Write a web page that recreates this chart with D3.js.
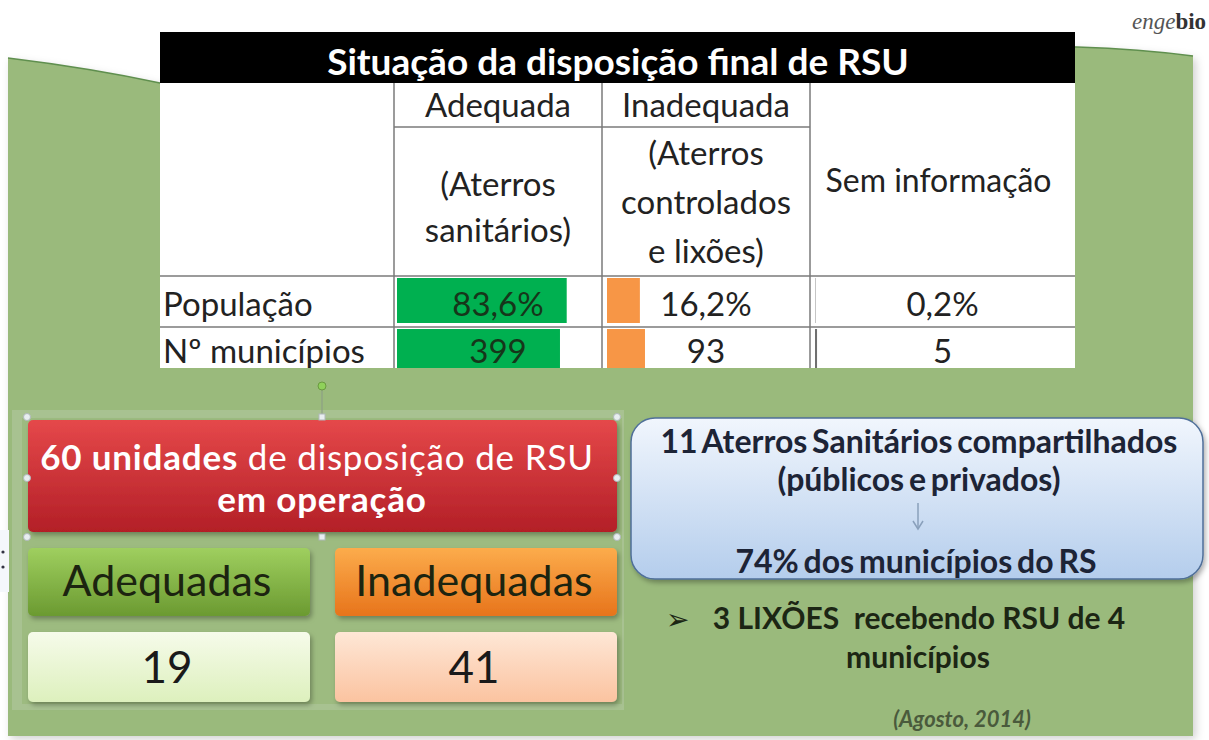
<!DOCTYPE html>
<html>
  <head>
    <meta charset="UTF-8" />
    <script src="https://cdnjs.cloudflare.com/ajax/libs/d3/7.8.5/d3.min.js"></script>
    <style>
      body { margin: 0; background: #fff; }
      svg { display: block; font-family: Lato, "Open Sans", sans-serif; }
    </style>
  </head>
  <body>
    <svg width="1209" height="740"></svg>
    <script>
      // ---- data ----
      const tableTitle = "Situação da disposição final de RSU";
      const columns = ["Adequada", "Inadequada", "Sem informação"];
      const columnNotes = [["(Aterros", "sanitários)"], ["(Aterros", "controlados", "e lixões)"], []];
      const rowLabels = ["População", "Nº municípios"];
      const population = [83.6, 16.2, 0.2];
      const municipalities = [399, 93, 5];

      const unitsTotal = 60;
      const unitLabels = ["Adequadas", "Inadequadas"];
      const unitCounts = [19, 41];

      const sharedLandfills = 11;
      const sharedShare = 74;
      const dumps = 3;
      const dumpMunicipalities = 4;
      const sourceNote = "(Agosto, 2014)";

      // ---- layout ----
      const svg = d3.select("svg");
      const colEdges = [160, 394, 602, 810, 1075];
      const rowEdges = [32, 83, 127, 276, 327, 368];
      const barColors = ["#00b050", "#f79646", "#6f6f6f"];
      const comma = s => s.replace(".", ",");
      const cellFont = 33;

      const defs = svg.append("defs");
      function grad(id, top, bottom) {
        let g = defs.append("linearGradient").attr("id", id)
          .attr("x1", 0).attr("y1", 0).attr("x2", 0).attr("y2", 1);
        g.append("stop").attr("offset", "0%").attr("stop-color", top);
        g.append("stop").attr("offset", "100%").attr("stop-color", bottom);
      }
      grad("gRed", "#e5484a", "#b31f27");
      grad("gGreen", "#9fcf5f", "#6b9a31");
      grad("gOrange", "#fcac4c", "#e7741b");
      grad("gPaleGreen", "#f6fbea", "#ddf0bd");
      grad("gPeach", "#fee7d6", "#fbc3a0");
      grad("gBlue", "#f1f6fd", "#b4cdec");

      let shadow = defs.append("filter").attr("id", "shadow")
        .attr("x", "-5%").attr("y", "-5%").attr("width", "115%").attr("height", "120%");
      shadow.append("feDropShadow").attr("dx", 2).attr("dy", 3)
        .attr("stdDeviation", 2.5).attr("flood-color", "#000").attr("flood-opacity", 0.3);

      let soft = defs.append("filter").attr("id", "soft")
        .attr("x", "-5%").attr("y", "-5%").attr("width", "110%").attr("height", "110%");
      soft.append("feDropShadow").attr("dx", 3).attr("dy", 3)
        .attr("stdDeviation", 4).attr("flood-color", "#000").attr("flood-opacity", 0.18);

      // green background with wavy top
      const topEdge = "M8,58 Q90,68 160,83 C400,130 800,40 1077,47 Q1140,49 1193,56";
      svg.append("path").attr("d", topEdge + " V736 H8 Z").attr("fill", "#9aba7b").attr("filter", "url(#soft)");
      svg.append("path").attr("d", topEdge)
        .attr("fill", "none").attr("stroke", "#5f8f4e").attr("stroke-width", 1.5);

      // logo
      let logo = svg.append("text").attr("x", 1132).attr("y", 29)
        .attr("font-family", "'Liberation Serif', 'DejaVu Serif', serif").attr("font-size", 23);
      logo.append("tspan").attr("font-style", "italic").attr("fill", "#555").text("enge");
      logo.append("tspan").attr("font-weight", "bold").attr("fill", "#333").text("bio");

      // ---- table ----
      const table = svg.append("g");
      defs.append("clipPath").attr("id", "tableClip").append("rect")
        .attr("x", 150).attr("y", 20).attr("width", 940).attr("height", rowEdges[5] - 20);
      table.attr("clip-path", "url(#tableClip)");

      table.append("rect").attr("x", colEdges[0]).attr("y", rowEdges[1])
        .attr("width", colEdges[4] - colEdges[0]).attr("height", 300).attr("fill", "#fff");
      table.append("rect").attr("x", colEdges[0]).attr("y", rowEdges[0])
        .attr("width", colEdges[4] - colEdges[0]).attr("height", rowEdges[1] - rowEdges[0]).attr("fill", "#000");
      table.append("text").attr("x", 618).attr("y", 75)
        .attr("text-anchor", "middle").attr("fill", "#fff").attr("font-weight", "bold")
        .attr("font-size", 37).text(tableTitle);

      // data bars, one scale per row
      const rows = [
        { label: rowLabels[0], values: population, fmt: v => comma(d3.format(".1f")(v)) + "%", base: 316 },
        { label: rowLabels[1], values: municipalities, fmt: v => String(v), base: 363 }
      ];
      rows.forEach((r, ri) => {
        const y0 = rowEdges[3 + ri] + 2, y1 = rowEdges[4 + ri] - 4;
        const x = d3.scaleLinear().domain([0, d3.sum(r.values)]).range([0, 203]);
        table.selectAll(null).data(r.values).enter().append("rect")
          .attr("x", (d, i) => colEdges[i + 1] + (i === 0 ? 3 : 5))
          .attr("y", y0)
          .attr("width", d => x(d))
          .attr("height", y1 - y0 + (ri === 1 ? 6 : 0))
          .attr("fill", (d, i) => barColors[i]);
        table.append("text").attr("x", colEdges[0] + 3).attr("y", r.base)
          .attr("font-size", cellFont).attr("fill", "#222").text(r.label);
        table.selectAll(null).data(r.values).enter().append("text")
          .attr("x", (d, i) => (colEdges[i + 1] + colEdges[i + 2]) / 2)
          .attr("y", r.base)
          .attr("text-anchor", "middle").attr("font-size", cellFont)
          .attr("fill", (d, i) => i === 0 ? "#16361a" : "#222")
          .text(d => r.fmt(d));
      });

      // grid lines
      const grid = table.append("g").attr("stroke", "#7a7a7a").attr("stroke-width", 1.5);
      grid.append("line").attr("x1", colEdges[1]).attr("x2", colEdges[3]).attr("y1", rowEdges[2]).attr("y2", rowEdges[2]);
      [rowEdges[3], rowEdges[4]].forEach(y => grid.append("line").attr("x1", colEdges[0]).attr("x2", colEdges[4]).attr("y1", y).attr("y2", y));
      colEdges.slice(1, 4).forEach(x => grid.append("line").attr("x1", x).attr("x2", x).attr("y1", rowEdges[1]).attr("y2", 400));

      // column heads
      const noteBase = [[196, 242], [165, 214, 263]];
      columns.forEach((c, i) => {
        const cx = (colEdges[i + 1] + colEdges[i + 2]) / 2;
        if (i < 2) {
          table.append("text").attr("x", cx).attr("y", 117).attr("text-anchor", "middle")
            .attr("font-size", cellFont).attr("fill", "#222").text(c);
          columnNotes[i].forEach((n, k) => {
            table.append("text").attr("x", cx).attr("y", noteBase[i][k])
              .attr("text-anchor", "middle").attr("font-size", cellFont).attr("fill", "#222").text(n);
          });
        } else {
          table.append("text").attr("x", cx - 4).attr("y", 192).attr("text-anchor", "middle")
            .attr("font-size", 32).attr("fill", "#222").text(c);
        }
      });

      // ---- lower left group ----
      const grp = svg.append("g");
      grp.append("rect").attr("x", 12).attr("y", 410).attr("width", 612).attr("height", 300)
        .attr("fill", "#b4c9a3").attr("opacity", 0.55);
      grp.append("rect").attr("x", 22).attr("y", 418).attr("width", 600).attr("height", 286)
        .attr("fill", "#9dbb80");

      grp.append("rect").attr("x", 28).attr("y", 420).attr("width", 589).attr("height", 112)
        .attr("rx", 5).attr("fill", "url(#gRed)").attr("filter", "url(#shadow)");
      let t1 = grp.append("text").attr("x", 317).attr("y", 470).attr("text-anchor", "middle")
        .attr("fill", "#fff").attr("font-size", 35).attr("letter-spacing", 0.8);
      t1.append("tspan").attr("font-weight", "bold").text(unitsTotal + " unidades");
      t1.append("tspan").text(" de disposição de RSU");
      grp.append("text").attr("x", 322).attr("y", 512).attr("text-anchor", "middle")
        .attr("fill", "#fff").attr("font-size", 35).attr("letter-spacing", 0.8)
        .attr("font-weight", "bold").text("em operação");

      const boxX = [28, 335], boxW = 282;
      const boxFill = ["url(#gGreen)", "url(#gOrange)"];
      const valFill = ["url(#gPaleGreen)", "url(#gPeach)"];
      unitLabels.forEach((l, i) => {
        grp.append("rect").attr("x", boxX[i]).attr("y", 548).attr("width", boxW).attr("height", 68)
          .attr("rx", 5).attr("fill", boxFill[i]).attr("filter", "url(#shadow)");
        grp.append("text").attr("x", boxX[i] + boxW / 2 - 2).attr("y", 596).attr("text-anchor", "middle")
          .attr("font-size", 43).attr("fill", "#1c2410").text(l);
        grp.append("rect").attr("x", boxX[i]).attr("y", 632).attr("width", boxW).attr("height", 70)
          .attr("rx", 5).attr("fill", valFill[i]).attr("filter", "url(#shadow)");
        grp.append("text").attr("x", boxX[i] + boxW / 2 - 2).attr("y", 683).attr("text-anchor", "middle")
          .attr("font-size", 44).attr("fill", "#1a1a1a").text(unitCounts[i]);
      });

      // selection handles on the red box
      grp.append("line").attr("x1", 322).attr("x2", 322).attr("y1", 388).attr("y2", 417)
        .attr("stroke", "#8a9a86").attr("stroke-width", 1);
      grp.append("circle").attr("cx", 322).attr("cy", 386).attr("r", 4)
        .attr("fill", "#8fd15a").attr("stroke", "#6a9a40");
      [[27, 417], [617, 417], [27, 478], [617, 478], [27, 537], [617, 537]].forEach(p =>
        grp.append("circle").attr("cx", p[0]).attr("cy", p[1]).attr("r", 3.5)
          .attr("fill", "#e8eef0").attr("stroke", "#b0b8bc"));
      [[322, 417], [322, 537]].forEach(p =>
        grp.append("rect").attr("x", p[0] - 3).attr("y", p[1] - 3).attr("width", 6).attr("height", 6)
          .attr("fill", "#e8eef0").attr("stroke", "#b0b8bc"));
      svg.append("rect").attr("x", 0).attr("y", 530).attr("width", 9).attr("height", 62).attr("fill", "#f4f7fb");
      [552, 567].forEach(y => svg.append("circle").attr("cx", 3).attr("cy", y).attr("r", 1.6).attr("fill", "#334"));

      // ---- right side ----
      svg.append("rect").attr("x", 631).attr("y", 418).attr("width", 572).attr("height", 161)
        .attr("rx", 24).attr("fill", "url(#gBlue)").attr("stroke", "#4f6f99").attr("stroke-width", 1.5)
        .attr("filter", "url(#shadow)");
      const blue = svg.append("g").attr("text-anchor", "middle").attr("font-weight", "bold")
        .attr("font-size", 32).attr("fill", "#1d2436").attr("word-spacing", -3);
      blue.append("text").attr("x", 919).attr("y", 453).text(sharedLandfills + " Aterros Sanitários compartilhados");
      blue.append("text").attr("x", 919).attr("y", 491).text("(públicos e privados)");
      blue.append("text").attr("x", 916).attr("y", 573).text(sharedShare + "% dos municípios do RS");
      svg.append("line").attr("x1", 918).attr("x2", 918).attr("y1", 503).attr("y2", 528)
        .attr("stroke", "#8aa0bb").attr("stroke-width", 1.5);
      svg.append("path").attr("d", "M913,521 L918,529 L923,521").attr("fill", "none")
        .attr("stroke", "#8aa0bb").attr("stroke-width", 1.5);

      const dumpG = svg.append("g").attr("font-weight", "bold").attr("font-size", 30).attr("fill", "#1c2614");
      dumpG.append("text").attr("x", 666).attr("y", 629).attr("font-size", 28)
        .attr("font-family", "'DejaVu Sans', sans-serif").text("➢");
      dumpG.append("text").attr("x", 919).attr("y", 629).attr("text-anchor", "middle")
        .attr("xml:space", "preserve")
        .text(dumps + " LIXÕES  recebendo RSU de " + dumpMunicipalities);
      dumpG.append("text").attr("x", 918).attr("y", 668).attr("text-anchor", "middle").text("municípios");

      svg.append("text").attr("x", 962).attr("y", 727).attr("text-anchor", "middle")
        .attr("font-style", "italic").attr("font-weight", "bold").attr("font-size", 22)
        .attr("fill", "#4a5a3c").text(sourceNote);
    </script>
  </body>
</html>
